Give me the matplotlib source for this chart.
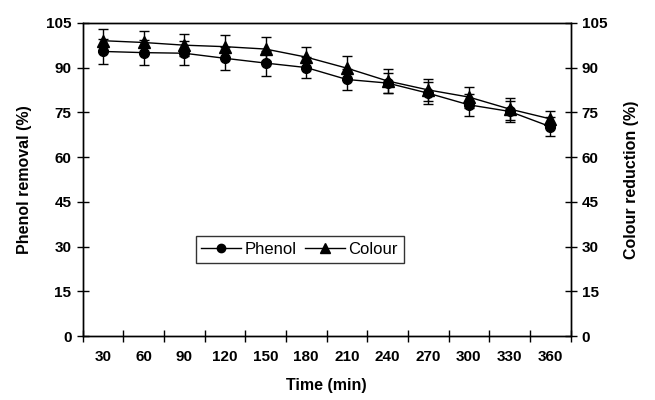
import matplotlib
matplotlib.use("Agg")
import matplotlib.pyplot as plt
from matplotlib.lines import Line2D
import numpy as np

plt.rcParams['font.family'] = ['Liberation Sans', 'DejaVu Sans']

# data
times = [30, 60, 90, 120, 150, 180, 210, 240, 270, 300, 330, 360]
phenol = [95.4, 95.0, 94.8, 93.1, 91.5, 90.0, 86.0, 84.8, 81.4, 77.5, 75.3, 70.2]
phenol_err = [4.2, 4.3, 4.1, 3.9, 4.2, 3.6, 3.4, 3.4, 3.6, 3.6, 3.4, 3.3]
colour = [99.0, 98.4, 97.5, 97.0, 96.2, 93.5, 89.8, 85.5, 82.5, 80.1, 76.1, 72.8]
colour_err = [3.8, 4.0, 3.7, 3.9, 4.0, 3.5, 4.1, 4.0, 3.6, 3.5, 3.7, 2.5]
yticks = [0, 15, 30, 45, 60, 75, 90, 105]

fig = plt.figure(figsize=(6.55, 4.0), dpi=100)
ax = fig.add_axes([0.126, 0.16, 0.745, 0.783])

x = np.arange(len(times))
ax.errorbar(x, phenol, yerr=phenol_err, color='black', lw=1.0, marker='o',
            ms=7, capsize=3.5, elinewidth=1.0, capthick=1.0)
ax.errorbar(x, colour, yerr=colour_err, color='black', lw=1.0, marker='^',
            ms=8, capsize=3.5, elinewidth=1.0, capthick=1.0)

ax.set_xlim(-0.5, len(times) - 0.5)
ax.set_ylim(0, 105)
ax.set_yticks(yticks)
ax.set_xticks(np.arange(len(times) + 1) - 0.5, minor=False)
ax.set_xticklabels([])
ax.set_xticks(x, minor=True)
ax.set_xticklabels([str(t) for t in times], minor=True)
ax.tick_params(axis='x', which='minor', length=0, pad=10)
ax.tick_params(axis='x', which='major', direction='inout', length=9, width=1)
ax.tick_params(axis='y', direction='inout', length=9, width=1)
for lab in ax.get_xticklabels(minor=True) + ax.get_yticklabels():
    lab.set_fontweight('bold')
    lab.set_fontsize(11)

ax.set_xlabel('Time (min)', fontsize=11.5, fontweight='bold', labelpad=10)
ax.set_ylabel('Phenol removal (%)', fontsize=11.5, fontweight='bold', labelpad=10)

ax2 = ax.twinx()
ax2.set_ylim(0, 105)
ax2.set_yticks(yticks)
ax2.tick_params(axis='y', direction='inout', length=9, width=1)
for lab in ax2.get_yticklabels():
    lab.set_fontweight('bold')
    lab.set_fontsize(11)
ax2.set_ylabel('Colour reduction (%)', fontsize=11.5, fontweight='bold',
               rotation=90, labelpad=12)

for a in (ax, ax2):
    for s in a.spines.values():
        s.set_linewidth(1.0)

handles = [Line2D([], [], color='black', lw=1.0, marker='o', ms=6),
           Line2D([], [], color='black', lw=1.0, marker='^', ms=7)]
leg = ax.legend(handles, ['Phenol', 'Colour'], loc='center',
                bbox_to_anchor=(0.445, 0.276), ncol=2,
                fontsize=12, frameon=True, fancybox=False, handlelength=2.4,
                handletextpad=0.2, columnspacing=0.5, borderpad=0.35)
leg.get_frame().set_edgecolor('black')
leg.get_frame().set_linewidth(1.0)

fig.savefig('out.png', dpi=100)
